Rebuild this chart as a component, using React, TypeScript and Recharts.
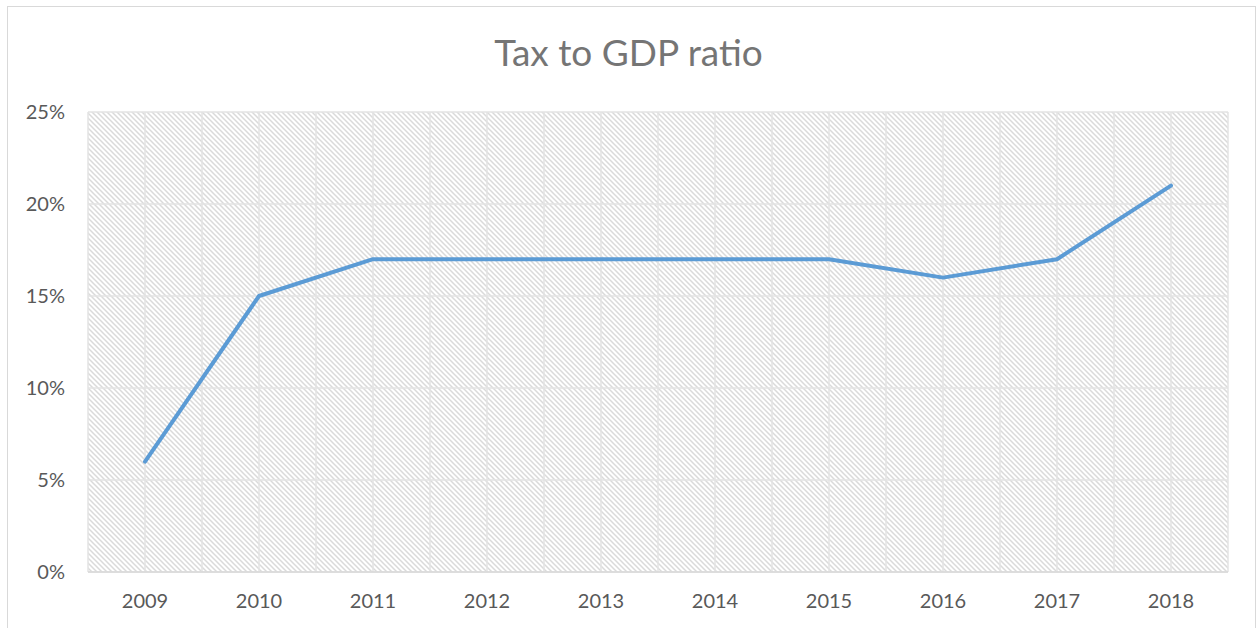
import React from "react";
import { LineChart, Line, XAxis, YAxis, CartesianGrid } from "recharts";

const years = ["2009", "2010", "2011", "2012", "2013", "2014", "2015", "2016", "2017", "2018"];
const taxToGdp = [6, 15, 17, 17, 17, 17, 17, 16, 17, 21];
const yTicks = [0, 5, 10, 15, 20, 25];

const data = years.map((y, i) => ({ year: y, ratio: taxToGdp[i] }));

const W = 1257;
const H = 628;
const FONT = "Lato, 'Open Sans', sans-serif";

export default function App() {
  return (
    <div style={{ position: "absolute", left: 0, top: 0, width: W, height: H, background: "#fff", overflow: "hidden" }}>
      <svg width={0} height={0} style={{ position: "absolute" }}>
        <defs>
          <pattern id="hatch" patternUnits="userSpaceOnUse" width={5} height={5}>
            <rect x={0} y={0} width={5} height={5} fill="#ffffff" />
            <path d="M-1,-1 L6,6 M-1,4 L1,6 M4,-1 L6,1" stroke="#dadada" strokeWidth={1.5} />
          </pattern>
        </defs>
      </svg>
      <div
        style={{
          position: "absolute",
          left: 7,
          top: 6,
          width: 1249,
          height: 660,
          border: "1px solid #d9d9d9",
          boxSizing: "border-box",
        }}
      />
      <div
        style={{
          position: "absolute",
          left: 0,
          top: 28,
          width: W,
          textAlign: "center",
          fontFamily: FONT,
          fontSize: 37,
          color: "#757575",
          lineHeight: "48px",
        }}
      >
        Tax to GDP ratio
      </div>
      <div style={{ position: "absolute", left: 0, top: 0 }}>
        <LineChart width={W} height={H} data={data} margin={{ top: 112, right: 29, bottom: 0, left: 0 }}>
          <CartesianGrid
            stroke="#e3e3e3"
            strokeWidth={1.5}
            fill="url(#hatch)"
            fillOpacity={1}
            verticalCoordinatesGenerator={({ offset }: any) =>
              Array.from({ length: 21 }, (_, i) => offset.left + (i * offset.width) / 20)
            }
          />
          <XAxis
            dataKey="year"
            scale="band"
            axisLine={{ stroke: "#d9d9d9", strokeWidth: 1.5 }}
            tickLine={false}
            tickSize={0}
            tickMargin={22}
            height={56}
            tick={{ fill: "#595959", fontSize: 20, fontFamily: FONT }}
          />
          <YAxis
            type="number"
            domain={[0, 25]}
            ticks={yTicks}
            width={88}
            axisLine={false}
            tickLine={false}
            tickSize={0}
            tickMargin={23}
            tickFormatter={(v: number) => `${v}%`}
            tick={{ fill: "#595959", fontSize: 20, fontFamily: FONT }}
          />
          <Line
            type="linear"
            dataKey="ratio"
            stroke="#5b9bd5"
            strokeWidth={4}
            strokeLinecap="round"
            strokeLinejoin="round"
            dot={false}
            activeDot={false}
            isAnimationActive={false}
          />
        </LineChart>
      </div>
    </div>
  );
}
